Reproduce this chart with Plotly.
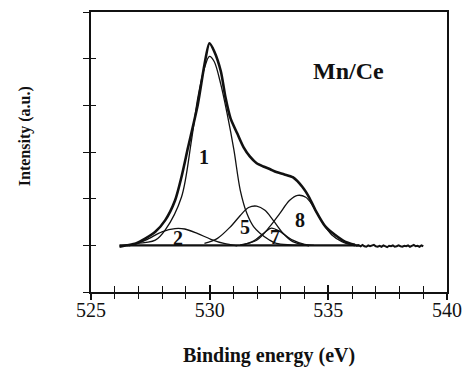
import plotly.graph_objects as go

# O 1s spectrum of the Mn/Ce sample: measured envelope (binding energy in eV, intensity in a.u.)
env_energy = [526.20, 526.50, 526.89, 527.30, 527.71, 528.13, 528.54, 528.81, 529.09, 529.50,
              529.78, 529.99, 530.19, 530.47, 530.67, 530.88, 531.16, 531.43, 531.70, 531.98,
              532.26, 532.55, 532.81, 533.15, 533.50, 533.91, 534.19, 534.46, 534.88, 535.29,
              535.70, 536.12]
env_counts = [0.97, 1.00, 1.04, 1.15, 1.29, 1.54, 1.96, 2.46, 3.10, 4.02,
              4.87, 5.33, 5.16, 4.73, 4.16, 3.72, 3.40, 3.10, 2.90, 2.76,
              2.69, 2.63, 2.57, 2.52, 2.46, 2.25, 2.03, 1.75, 1.40, 1.22,
              1.08, 1.01]

# flat, noisy high-energy tail of the measured spectrum
tail_energy = [536.12, 536.20, 536.28, 536.36, 536.44, 536.52, 536.60, 536.68, 536.76, 536.84,
               536.92, 537.00, 537.08, 537.16, 537.24, 537.32, 537.40, 537.48, 537.56, 537.64,
               537.72, 537.80, 537.88, 537.96, 538.04, 538.12, 538.20, 538.28, 538.36, 538.44,
               538.52, 538.60, 538.68, 538.76, 538.84, 538.92, 539.00]
tail_counts = [1.01, 0.99, 1.00, 0.98, 1.01, 0.98, 0.97, 1.00, 0.98, 0.99,
               1.01, 0.98, 0.97, 0.99, 0.97, 1.00, 0.98, 0.96, 0.99, 0.98,
               1.00, 0.97, 0.98, 1.00, 0.98, 0.97, 0.99, 0.98, 1.00, 0.97,
               0.99, 1.01, 0.98, 0.99, 0.97, 1.00, 0.98]

# fitted components
p1_energy = [526.88, 527.71, 528.13, 528.81, 529.23, 529.50, 529.78, 529.99, 530.19, 530.47,
             530.74, 531.02, 531.29, 531.57, 531.85, 532.12, 532.50, 532.81, 533.40, 533.91]
p1_counts = [1.04, 1.11, 1.33, 2.03, 3.24, 4.16, 4.80, 5.05, 4.94, 4.45,
             3.81, 3.05, 2.18, 1.68, 1.40, 1.26, 1.12, 1.04, 1.01, 1.00]

p2_energy = [526.61, 527.30, 527.99, 528.54, 528.95, 529.50, 530.05, 530.60, 531.16]
p2_counts = [0.99, 1.11, 1.29, 1.36, 1.35, 1.25, 1.13, 1.04, 0.99]

p5_energy = [529.78, 530.33, 530.88, 531.29, 531.64, 531.98, 532.33, 532.67, 533.09, 533.50, 534.19]
p5_counts = [1.04, 1.15, 1.40, 1.64, 1.81, 1.84, 1.75, 1.54, 1.26, 1.08, 0.99]

p7_energy = [531.30, 531.80, 532.30, 532.60, 532.95, 533.50, 534.00, 534.40]
p7_counts = [1.00, 1.08, 1.27, 1.37, 1.30, 1.11, 1.02, 1.00]

p8_energy = [531.29, 531.98, 532.53, 532.95, 533.36, 533.71, 534.05, 534.33, 534.74, 535.15,
             535.57, 536.12]
p8_counts = [1.01, 1.11, 1.40, 1.68, 1.96, 2.07, 2.03, 1.86, 1.50, 1.22,
             1.08, 0.99]

# linear background under the fit
bg_energy = [526.20, 536.30]
bg_counts = [1.00, 1.00]

# component labels
label_text = ["1", "2", "5", "7", "8"]
label_energy = [529.78, 528.68, 531.50, 532.74, 533.80]
label_counts = [2.89, 1.15, 1.40, 1.18, 1.54]

SERIF = "Liberation Serif, Times New Roman, serif"
INK = "#111111"

fig = go.Figure()

fig.add_trace(go.Scatter(x=bg_energy, y=bg_counts, mode="lines",
                         line=dict(color=INK, width=2.2), hoverinfo="skip"))

for ex, ey in [(p2_energy, p2_counts), (p5_energy, p5_counts), (p7_energy, p7_counts),
               (p8_energy, p8_counts), (p1_energy, p1_counts)]:
    fig.add_trace(go.Scatter(x=ex, y=ey, mode="lines",
                             line=dict(color=INK, width=1.3, shape="spline", smoothing=0.9)))

fig.add_trace(go.Scatter(x=env_energy, y=env_counts, mode="lines",
                         line=dict(color=INK, width=2.6, shape="spline", smoothing=0.7)))
fig.add_trace(go.Scatter(x=tail_energy, y=tail_counts, mode="lines",
                         line=dict(color=INK, width=2.0)))

# carrier trace for the overlaid axes that draw the inward half of each tick
fig.add_trace(go.Scatter(x=[None], y=[None], xaxis="x2", yaxis="y2", mode="lines",
                         hoverinfo="skip"))

for t, ex, ey in zip(label_text, label_energy, label_counts):
    fig.add_annotation(x=ex, y=ey, text="<b>" + t + "</b>", showarrow=False,
                       font=dict(family=SERIF, size=20, color=INK))

fig.add_annotation(x=535.83, y=4.73, text="<b>Mn/Ce</b>", showarrow=False,
                   font=dict(family=SERIF, size=24, color=INK))

fig.add_annotation(xref="paper", yref="paper", x=0.5, y=-0.225, text="<b>Binding energy (eV)</b>",
                   showarrow=False, font=dict(family=SERIF, size=20, color=INK),
                   xanchor="center", yanchor="middle")
fig.add_annotation(xref="paper", yref="paper", x=-0.187, y=0.558, text="<b>Intensity (a.u.)</b>",
                   showarrow=False, font=dict(family=SERIF, size=16, color=INK), textangle=-90,
                   xanchor="center", yanchor="middle")

axis_common = dict(showgrid=False, zeroline=False)

fig.update_layout(
    width=472, height=376,
    margin=dict(l=91, r=17, t=10, b=84),
    paper_bgcolor="white", plot_bgcolor="white",
    showlegend=False,
    xaxis=dict(range=[525, 540], tickmode="linear", tick0=525, dtick=5,
               ticks="outside", ticklen=6, tickwidth=1.5, tickcolor=INK,
               minor=dict(dtick=1, ticks="outside", ticklen=5, tickwidth=1.3, tickcolor=INK),
               showline=True, linewidth=2, linecolor=INK, mirror=True,
               ticklabelstandoff=-7,
               tickfont=dict(family=SERIF, size=20, color=INK), **axis_common),
    yaxis=dict(range=[0, 6], tickmode="linear", tick0=0, dtick=1,
               ticks="outside", ticklen=6, tickwidth=1.3, tickcolor=INK,
               showticklabels=False,
               showline=True, linewidth=2, linecolor=INK, mirror=True, **axis_common),
    xaxis2=dict(range=[525, 540], overlaying="x", side="bottom", tickmode="linear",
                tick0=525, dtick=5, ticks="inside", ticklen=7, tickwidth=1.5, tickcolor=INK,
                minor=dict(dtick=1, ticks="inside", ticklen=6, tickwidth=1.3, tickcolor=INK),
                showticklabels=False, showline=False, **axis_common),
    yaxis2=dict(range=[0, 6], overlaying="y", side="left", tickmode="linear", tick0=0, dtick=1,
                ticks="inside", ticklen=5, tickwidth=1.3, tickcolor=INK,
                showticklabels=False, showline=False, **axis_common),
)

fig.write_html("out.html")
